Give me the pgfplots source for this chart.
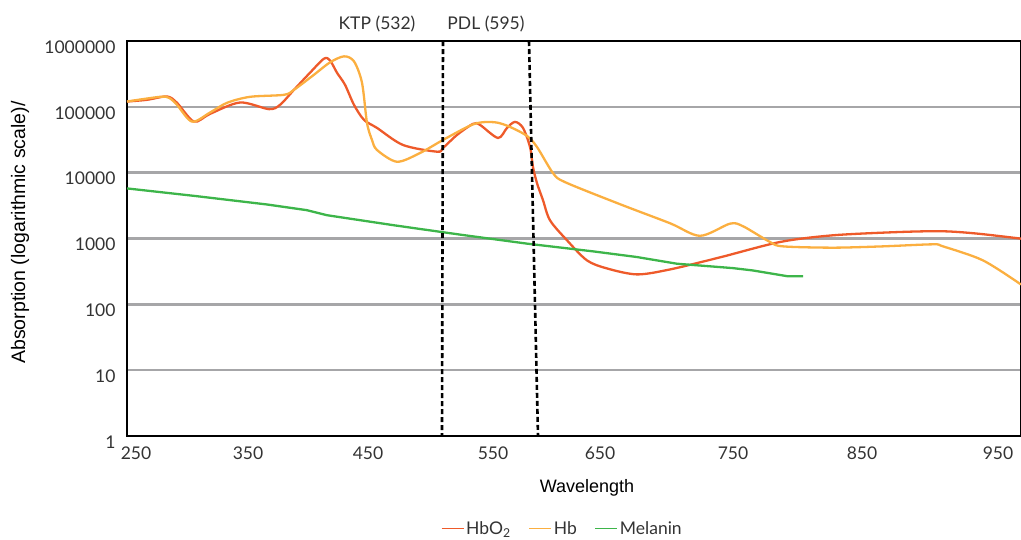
\documentclass[border=0pt]{standalone}
\usepackage{pgfplots}
\pgfplotsset{compat=1.18}
\usepackage{pgfplotstable}
\usepackage{fontspec}
\setmainfont{Lato}
\newfontfamily\arialf{Liberation Sans}
\definecolor{hbored}{RGB}{238,90,42}
\definecolor{hborange}{RGB}{251,175,64}
\definecolor{melgreen}{RGB}{61,181,74}
\definecolor{gridgray}{RGB}{166,166,168}

% x: position along the category axis (250 ... 950 labels), y: absorption
\pgfplotstableread{
x y
127 120500
147 127900
167 143600
177 115100
194 59700
210 78200
240 116400
269 92300
280 107200
294 181600
310 329700
324 539300
330 508000
337 329700
345 216400
354 107200
364 63400
377 47860
403 26360
437 20840
443 23710
457 37420
473 55080
480 53180
498 33670
507 47860
515 59070
523 47860
530 24550
533 12170
537 6940
543 3820
550 1893
567 939
587 465
607 351
637 285
670 339
720 517
780 885
833 1119
900 1256
943 1288
977 1188
1021 996
}\hbotwo

\pgfplotstableread{
x y
127 120500
160 142000
169 137100
177 107200
192 59700
210 81900
227 115100
250 142000
284 152400
294 181600
314 307500
330 473500
344 584600
354 490600
362 232200
367 57040
372 31410
377 22120
397 14660
420 19900
443 31410
470 51880
483 58460
497 57660
510 49550
527 36140
537 24550
553 9860
565 7190
620 3321
670 1706
700 1099
730 1680
743 1535
770 885
783 760
833 726
883 760
933 816
943 760
983 465
1021 200
}\hb

\pgfplotstableread{
x y
127 5767
194 4446
267 3288
307 2692
327 2259
394 1589
460 1146
527 836
593 638
637 523
677 414
733 355
753 327
787 268
803 268
}\melanin

\begin{document}
\begin{tikzpicture}
\useasboundingbox (0,0) rectangle (1021pt,-539pt);
\begin{axis}[
  at={(127pt,-436pt)}, anchor=south west,
  width=894pt, height=395pt, scale only axis,
  xmin=127, xmax=1021,
  ymode=log, ymin=1, ymax=1000000,
  xtick={136,248,368,493,600,733,862,998},
  xticklabels={250,350,450,550,650,750,850,950},
  ytick={1,10,100,1000,10000,100000,1000000},
  yticklabels={1,10,100,1000,10000,100000,1000000},
  /pgf/number format/assume math mode=true,
  major tick length=0pt, minor tick num=0,
  log basis y=10,
  ymajorgrids, xmajorgrids=false,
  grid style={color=gridgray, line width=2.6pt},
  axis line style={line width=2.6pt, black},
  ticklabel style={font=\fontsize{17.5}{20}\selectfont, text=black!80},
  xticklabel style={yshift=-7pt},
  yticklabel style={xshift=-8pt, yshift=-6pt},
  xlabel={Wavelength},
  xlabel style={at={(axis description cs:0.5145,-0.1418)}, anchor=base, font=\arialf\fontsize{18}{20}\selectfont},
  ylabel={Absorption (logarithmic scale)/},
  ylabel style={at={(axis description cs:-0.1197,0.515)}, anchor=center, font=\arialf\fontsize{19.5}{20}\selectfont},
  clip=false,
  legend style={at={(axis description cs:0.487,-0.235)}, anchor=center, draw=none, fill=none,
    legend columns=3, font=\fontsize{17.5}{20}\selectfont, text=black!80,
    /tikz/every even column/.append style={column sep=16pt}},
  legend image code/.code={\draw[#1, line width=1.1pt] (0pt,0pt) -- (22pt,0pt);},
]
\addplot[hbored, line width=2.3pt, smooth, tension=0.5] table {\hbotwo};
\addlegendentry{HbO\textsubscript{2}}
\addplot[hborange, line width=2.3pt, smooth, tension=0.5] table {\hb};
\addlegendentry{Hb}
\addplot[melgreen, line width=2.3pt] table {\melanin};
\addlegendentry{Melanin}
\addplot[black, line width=2.6pt, dash pattern=on 5pt off 3pt, forget plot] coordinates {(443,1000000) (442,1)};
\addplot[black, line width=2.6pt, dash pattern=on 5pt off 3pt, forget plot] coordinates {(529,1000000) (538,1)};
\node[font=\fontsize{17.5}{20}\selectfont, text=black!80, anchor=base] at (axis cs:377,1000000) [yshift=12pt] {KTP (532)};
\node[font=\fontsize{17.5}{20}\selectfont, text=black!80, anchor=base] at (axis cs:486,1000000) [yshift=12pt] {PDL (595)};
\end{axis}
\end{tikzpicture}
\end{document}
